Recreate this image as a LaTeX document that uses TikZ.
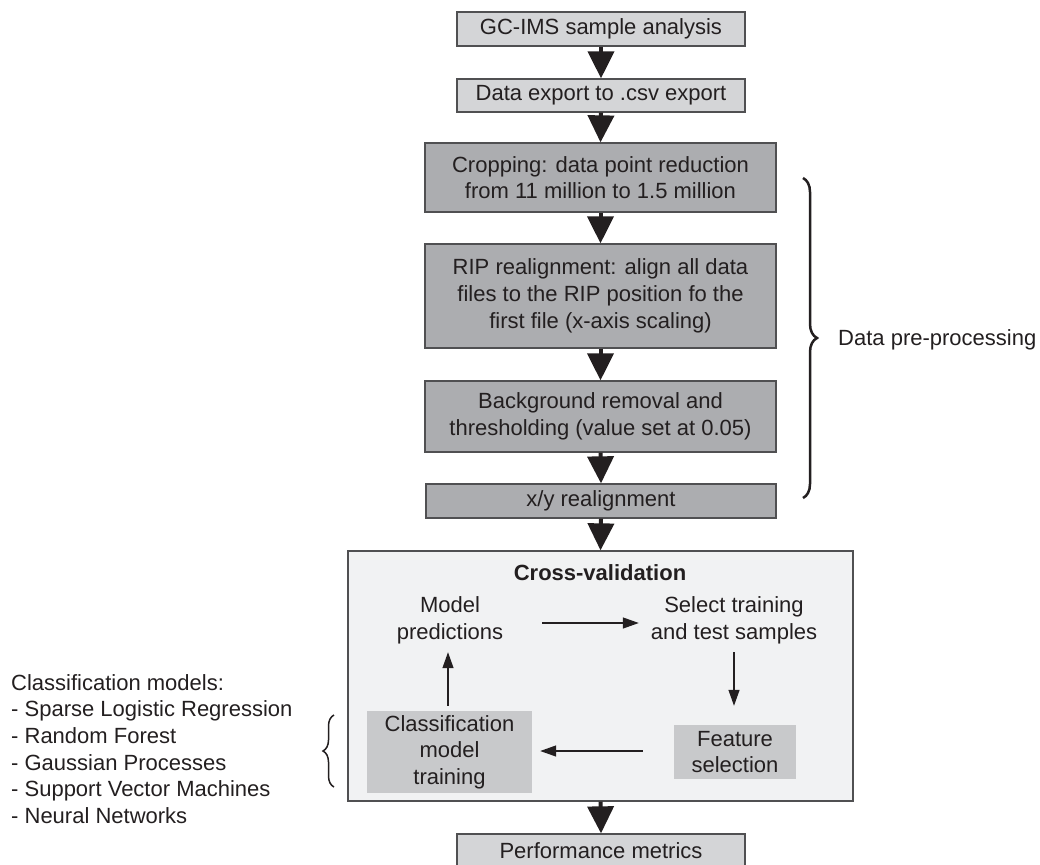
\documentclass[tikz,border=0pt]{standalone}
\usepackage{fontspec}
\setmainfont{Liberation Sans}
\usetikzlibrary{arrows.meta,decorations.pathreplacing}
\definecolor{txt}{HTML}{231F20}
\definecolor{lightfill}{HTML}{D4D5D7}
\definecolor{darkfill}{HTML}{ACADB0}
\definecolor{cvfill}{HTML}{F1F2F3}
\definecolor{innerfill}{HTML}{C8C9CB}
\definecolor{edge}{HTML}{505052}
\tikzset{
  basefont/.style={font=\fontsize{22}{26.7}\selectfont, text=txt, align=center, inner sep=0pt},
  lightbox/.style={basefont, fill=lightfill, draw=edge, line width=1.3pt, minimum width=288pt, minimum height=34pt},
  darkbox/.style={basefont, fill=darkfill, draw=edge, line width=1.3pt, minimum width=351pt},
  cvbox/.style={fill=cvfill, draw=edge, line width=1.3pt, minimum width=505pt, minimum height=250pt, inner sep=0pt},
  innerbox/.style={basefont, fill=innerfill},
  plaintext/.style={basefont},
  bigarrow/.style={draw=txt, line width=4pt, -{Triangle[length=27pt,width=26pt]}},
  smallarrow/.style={draw=txt, line width=1.3pt, -{Triangle[length=16pt,width=11pt]}},
  bracestyle/.style={draw=txt, decorate},
}
\begin{document}
\begin{tikzpicture}[x=1pt,y=-1pt]
\useasboundingbox (0,0) rectangle (1040,864);
\clip (0,0) rectangle (1040,864);

\node[lightbox] (gc) at (601,29) {GC-IMS sample analysis};
\node[lightbox, minimum height=33pt] (de) at (601,95.5) {Data export to .csv export};
\node[darkbox, minimum height=69pt] (crop) at (600.5,177.5) {Cropping: data point reduction\\from 11 million to 1.5 million};
\node[darkbox, minimum height=104pt] (rip) at (600.5,296) {RIP realignment: align all data\\files to the RIP position fo the\\first file (x-axis scaling)};
\node[darkbox, minimum height=71pt] (bg) at (600.5,416.5) {Background removal and\\thresholding (value set at 0.05)};
\node[darkbox, minimum width=350pt, minimum height=34pt] (xy) at (601,501) {x/y realignment};
\node[cvbox] (cv) at (600.5,676) {};
\node[lightbox] (perf) at (601,851) {Performance metrics};

\draw[bigarrow] (gc.south) -- (de.north);
\draw[bigarrow] (de.south) -- (crop.north);
\draw[bigarrow] (crop.south) -- (rip.north);
\draw[bigarrow] (rip.south) -- (bg.north);
\draw[bigarrow] (bg.south) -- (xy.north);
\draw[bigarrow] (xy.south) -- (cv.north);
\draw[bigarrow] (cv.south) -- (perf.north);

\node[plaintext, font=\fontsize{22}{26.7}\selectfont\bfseries] (cvtitle) at (600,573) {Cross-validation};
\node[plaintext, minimum width=170pt, minimum height=64pt] (mp) at (450,620) {Model\\predictions};
\node[plaintext, minimum width=180pt, minimum height=64pt] (sel) at (734,620) {Select training\\and test samples};
\node[innerbox, minimum width=122pt, minimum height=54pt] (fs) at (735,752) {Feature\\selection};
\node[innerbox, minimum width=165pt, minimum height=82pt] (cm) at (449.5,752) {Classification\\model\\training};

\draw[smallarrow, shorten <=7pt, shorten >=5pt] ([yshift=-3pt]mp.east) -- ([yshift=-3pt]sel.west);
\draw[smallarrow, shorten >=19pt] (sel.south) -- (sel.south |- fs.north);
\draw[smallarrow, shorten <=31pt, shorten >=8pt] ([yshift=1pt]fs.west) -- ([yshift=1pt]fs.west -| cm.east);
\draw[smallarrow, shorten <=5pt] ([xshift=-1.5pt]cm.north) -- ([xshift=-1.5pt]cm.north |- mp.south);

\node[plaintext, anchor=west] (dpp) at (838,340) {Data pre-processing};
\coordinate (b1) at (803,178);
\coordinate (b2) at (803,498);
\draw[bracestyle, line width=2.5pt, decoration={brace, amplitude=14pt}] (b1) -- (b2);

\node[plaintext, align=left, anchor=north west] (models) at (11,674) {Classification models:\\- Sparse Logistic Regression\\- Random Forest\\- Gaussian Processes\\- Support Vector Machines\\- Neural Networks};
\coordinate (s1) at (334,787);
\coordinate (s2) at (334,715);
\draw[bracestyle, line width=1.5pt, decoration={brace, amplitude=11pt}] (s1) -- (s2);
\end{tikzpicture}
\end{document}
